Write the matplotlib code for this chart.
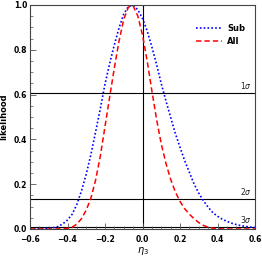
import numpy as np
import matplotlib
matplotlib.use('Agg')
import matplotlib.pyplot as plt
from matplotlib.ticker import MultipleLocator

# eta_3 grid (step 0.025)
eta = np.round(np.arange(-0.6, 0.6001, 0.025), 3)

# likelihood
sub_like = [0.0, 0.0, 0.001, 0.002, 0.003, 0.006, 0.011, 0.023, 0.04, 0.066,
            0.11, 0.171, 0.245, 0.333, 0.434, 0.537, 0.647, 0.739, 0.823, 0.898,
            0.96, 0.994, 0.998, 0.979, 0.94, 0.884, 0.813, 0.735, 0.649, 0.572,
            0.499, 0.427, 0.365, 0.305, 0.253, 0.201, 0.16, 0.126, 0.0975, 0.073,
            0.057, 0.044, 0.034, 0.026, 0.0198, 0.015, 0.0114, 0.0087, 0.0065]

all_like = [0.0, 0.0, 0.0, 0.0, 0.0, 0.0, 0.0003, 0.001, 0.0031, 0.0085,
            0.022, 0.0466, 0.0847, 0.138, 0.219, 0.325, 0.458, 0.59, 0.72, 0.84,
            0.936, 0.991, 0.996, 0.951, 0.866, 0.75, 0.617, 0.49, 0.38, 0.293,
            0.222, 0.166, 0.123, 0.0905, 0.066, 0.046, 0.0286, 0.016, 0.008, 0.0037,
            0.0016, 0.0006, 0.0002, 0.0, 0.0, 0.0, 0.0, 0.0, 0.0]

# confidence levels
sigma_levels = [1, 2, 3]
sigma_values = [np.exp(-0.5 * s ** 2) for s in sigma_levels]

fig = plt.figure(figsize=(2.62, 2.60), dpi=100)
ax = fig.add_axes([30 / 262, 31 / 260, 225 / 262, 224 / 260])

ax.plot(eta, sub_like, color='#0000ff', linestyle=(0, (1, 1.3)), linewidth=1.2, label='Sub')
ax.plot(eta, all_like, color='#ff0000', linestyle=(0, (3.5, 2)), linewidth=1.1, label='All')

for s, v in zip(sigma_levels, sigma_values):
    ax.axhline(v, color='black', linewidth=0.8, zorder=1)
    ax.text(0.585, v + 0.008, r'%d$\sigma$' % s, ha='right', va='bottom',
            fontsize=5.5, color='#222222')
ax.axvline(0.0, color='black', linewidth=0.8, zorder=1)

ax.set_xlim(-0.6, 0.6)
ax.set_ylim(0, 1.0)
ax.xaxis.set_major_locator(MultipleLocator(0.2))
ax.xaxis.set_minor_locator(MultipleLocator(0.05))
ax.yaxis.set_major_locator(MultipleLocator(0.2))
ax.yaxis.set_minor_locator(MultipleLocator(0.05))
ax.tick_params(which='both', direction='in', top=False, right=False,
               labelsize=5.5, color='#555555')
ax.tick_params(axis='y', pad=2)
ax.tick_params(axis='x', pad=4)
ax.tick_params(which='major', length=4, width=0.6)
ax.tick_params(which='minor', length=2, width=0.5)
for lab in ax.get_xticklabels() + ax.get_yticklabels():
    lab.set_fontweight('bold')
for sp in ax.spines.values():
    sp.set_color('#444444')
    sp.set_linewidth(0.8)

ax.set_xlabel(r'$\eta_3$', fontsize=7, labelpad=1)
ax.set_ylabel('likelihood', fontsize=6, fontweight='bold', labelpad=4)

leg = ax.legend(loc='upper right', bbox_to_anchor=(0.99, 0.95), frameon=False,
                fontsize=6, handlelength=3.2, handletextpad=0.6, labelspacing=0.5)
for t in leg.get_texts():
    t.set_fontweight('bold')

fig.savefig('out.png', dpi=100)
